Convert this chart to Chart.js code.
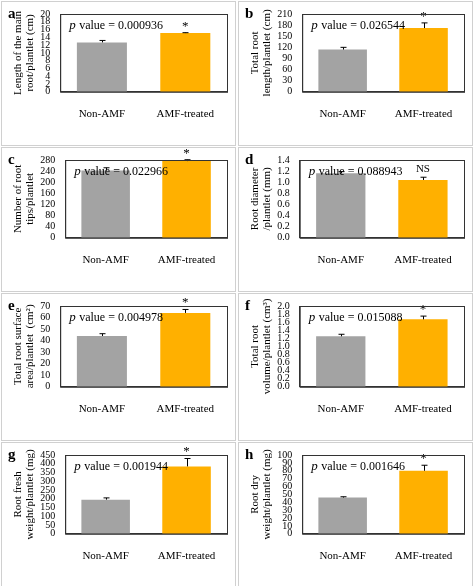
<!DOCTYPE html>
<html><head><meta charset="utf-8">
<script src="https://cdn.jsdelivr.net/npm/chart.js@4/dist/chart.umd.min.js"></script>
<style>
body{margin:0;background:#fff;}
#g{display:grid;grid-template-columns:235px 235px;grid-template-rows:145px 145px 148px 146px;gap:1px 2px;padding:1px;}
.p{position:relative;border:1px solid #d0d0d0;box-sizing:border-box;overflow:hidden}
.p b{position:absolute;left:6px;top:3px;font:bold 15px "Liberation Serif";z-index:2}
canvas{position:absolute;left:0;top:0}
</style></head><body>
<div id="g"></div>
<script>
const categories=["Non-AMF","AMF-treated"];
const letters=["a","b","c","d","e","f","g","h"];
const means=[[12.7,15.1],[114,172],[242,276],[1.16,1.04],[44,64],[1.25,1.67],[195,385],[46,80]];
const errs=[[0.5,0.1],[6,14],[10,5],[0.03,0.05],[2,3],[0.05,0.08],[10,45],[1,7]];
const pvals=["0.000936","0.026544","0.022966","0.088943","0.004978","0.015088","0.001944","0.001646"];
const marks=["*","*","*","NS","*","*","*","*"];
const yMax=[20,210,280,1.4,70,2.0,450,100];
const ySteps=[2,30,40,0.2,10,0.2,50,10];
const yTitles=[["Length of the main","root/plantlet (cm)"],["Total root","length/plantlet (cm)"],["Number of root","tips/plantlet"],["Root diameter","/plantlet (mm)"],["Total root surface","area/plantlet  (cm²)"],["Total root","volume/plantlet (cm³)"],["Root fresh","weight/plantlet (mg)"],["Root dry","weight/plantlet (mg)"]];
const F='"Liberation Serif"';
const plug={id:'ann',afterDatasetsDraw(ch){
  const c=ch.ctx,i=ch.options.plugins.ann.i,x=ch.scales.x,y=ch.scales.y,ca=ch.chartArea;
  c.save();c.strokeStyle='#000';c.lineWidth=1;
  means[i].forEach((m,j)=>{const px=Math.round(x.getPixelForValue(j))+0.5,top=y.getPixelForValue(m+errs[i][j]),mid=y.getPixelForValue(m);
    c.beginPath();c.moveTo(px,mid);c.lineTo(px,top);c.moveTo(px-3,top);c.lineTo(px+3,top);c.stroke();});
  const px=x.getPixelForValue(1),top=y.getPixelForValue(means[i][1]+errs[i][1]);
  c.fillStyle='#000';c.textAlign='center';c.textBaseline='bottom';
  c.font=(marks[i]=='*'?'13px ':'11px ')+F;c.fillText(marks[i],px,top-(marks[i]=='*'?0:3));
  c.textAlign='left';c.textBaseline='middle';
  const tx=ca.left+9,ty=ca.top+12;c.font='italic 13px '+F;c.fillText('p',tx,ty);
  c.font='12px '+F;c.fillText(' value = '+pvals[i],tx+7,ty);
  c.strokeStyle='#333';c.strokeRect(ca.left+0.5,ca.top+0.5,ca.right-ca.left,ca.bottom-ca.top);
  c.restore();}};
const g=document.getElementById('g');
const H=[143,143,143,143,146,146,144,144];
letters.forEach((L,i)=>{
  const d=document.createElement('div');d.className='p';
  d.innerHTML='<b>'+L+'</b>';const cv=document.createElement('canvas');
  cv.width=233;cv.height=H[i];cv.style.width='233px';cv.style.height=H[i]+'px';
  d.appendChild(cv);g.appendChild(d);
  new Chart(cv,{type:'bar',data:{labels:categories,datasets:[{data:means[i],backgroundColor:['#a3a3a3','#ffb000'],barPercentage:0.6,categoryPercentage:1}]},
   options:{responsive:false,maintainAspectRatio:false,animation:false,devicePixelRatio:1,
    layout:{padding:{top:12,right:8,bottom:16,left:6}},
    plugins:{legend:{display:false},tooltip:{enabled:false},ann:{i}},
    scales:{x:{grid:{display:false},border:{color:'#333'},ticks:{color:'#000',font:{family:F,size:11},padding:8}},
     y:{min:0,max:yMax[i],grid:{display:false},border:{color:'#333'},
      ticks:{stepSize:ySteps[i],autoSkip:false,color:'#000',font:{family:F,size:10},padding:2,callback:v=>ySteps[i]<1?v.toFixed(1):v},
      title:{display:true,text:yTitles[i],color:'#000',font:{family:F,size:11,lineHeight:1.1},padding:{bottom:2}}}}},
   plugins:[plug]});
});
</script>
</body></html>
